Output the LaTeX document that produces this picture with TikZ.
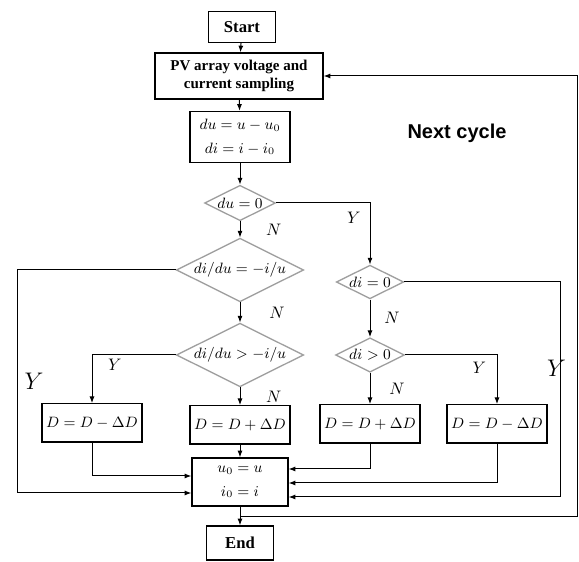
\documentclass[tikz,border=0pt]{standalone}
\usepackage{amsmath,amssymb}
\usepackage{fontspec}
\setmainfont{Liberation Serif}
\newfontfamily\cyclefont{Liberation Sans}
\usepackage{tikz}
\usetikzlibrary{arrows.meta, shapes.geometric, positioning}
\usepackage{xcolor}

\begin{document}
\begin{tikzpicture}[x=0.6pt, y=-0.6pt, >={Latex[length=4pt,width=3pt]},
          every node/.style={align=center},
          box/.style={draw, line width=0.8pt, inner sep=2pt},
          dbox/.style={box, font=\small, minimum width=60pt, minimum height=23pt},
          cond/.style={draw=gray!75, line width=0.8pt, diamond, aspect=2,
                       inner sep=0.5pt, font=\small},
          every path/.style={line width=0.6pt}]
        \useasboundingbox (0,0) rectangle (579,562);
        \node[box, font=\bfseries, minimum width=40pt, minimum height=18.6pt] (start) at (242,27) {Start};
        \node[box, font=\small\bfseries, minimum width=100.8pt, minimum height=27.6pt] (pv) at (239,76) {PV array voltage and\\current sampling};
        \node[box, font=\small, minimum width=60pt, minimum height=30.6pt] (dd) at (240,137) {$du = u - u_0$\\[3pt]$di = i - i_0$};
        \node[cond] (d1) at (240,203) {$du = 0$};
        \node[cond] (d2) at (240,270) {$di/du = -i/u$};
        \node[cond] (d3) at (370,282) {$di = 0$};
        \node[cond] (d4) at (370,355) {$di > 0$};
        \node[cond] (d5) at (240,355) {$di/du > -i/u$};
        \node[dbox] (dl)  at (92,423)  {$D = D - \Delta D$};
        \node[dbox] (dm)  at (240,425) {$D = D + \Delta D$};
        \node[dbox] (dr1) at (370,424) {$D = D + \Delta D$};
        \node[dbox] (dr2) at (497,424) {$D = D - \Delta D$};
        \node[box, font=\small, minimum width=57.6pt, minimum height=28.8pt] (upd) at (240,482) {$u_0 = u$\\[3pt]$i_0 = i$};
        \node[box, font=\bfseries, minimum width=40pt, minimum height=20.4pt] (end) at (240,543) {End};
        \node[font=\cyclefont\bfseries\large] (nxt) at (457,133) {Next cycle};
        % turning points and arrow ends
        \coordinate (lx)  at (17,0);
        \coordinate (rx2) at (560,0);
        \coordinate (rx)  at (577,0);
        \coordinate (inL1) at ([yshift=3.6pt]upd.west);
        \coordinate (inL2) at ([yshift=-6.6pt]upd.west);
        \coordinate (inR1) at ([yshift=7.8pt]upd.east);
        \coordinate (inR2) at ([yshift=-0.6pt]upd.east);
        \coordinate (inR3) at ([yshift=-9pt]upd.east);
        \draw[->] (start) -- (pv);
        \draw[->] (pv) -- (dd);
        \draw[->] (dd) -- (d1);
        \draw[->] (d1) -- node[right=12pt] {$N$} (d2);
        \draw[->] (d1.east) -| node[pos=0.62, left=2pt] {$Y$} (d3.north);
        \draw[->] (d2.west) -| node[pos=0.75, right=1pt, font=\Large] {$Y$} (lx |- inL2) -- (inL2);
        \draw[->] (d2) -- node[right=14pt] {$N$} (d5);
        \draw[->] (d5.west) -| node[pos=0.6, right=6pt] {$Y$} (dl.north);
        \draw[->] (d5) -- node[right=12pt] {$N$} (dm);
        \draw[->] (d3) -- node[right=5pt] {$N$} (d4);
        \draw[->] (d3.east) -| node[pos=0.7, xshift=-2pt, font=\Large] {$Y$} (rx2 |- inR3) -- (inR3);
        \draw[->] (d4.east) -| node[pos=0.63, left=3pt] {$Y$} (dr2.north);
        \draw[->] (d4) -- node[right=8pt] {$N$} (dr1);
        \draw[->] (dl.south) |- (inL1);
        \draw[->] (dm) -- (upd);
        \draw[->] (dr1.south) |- (inR1);
        \draw[->] (dr2.south) |- (inR2);
        \draw[->] (upd) -- coordinate[pos=0.55] (nc) (end);
        \draw[->] (nc) -| (rx |- pv.east) -- (pv.east);
      \end{tikzpicture}
\end{document}
